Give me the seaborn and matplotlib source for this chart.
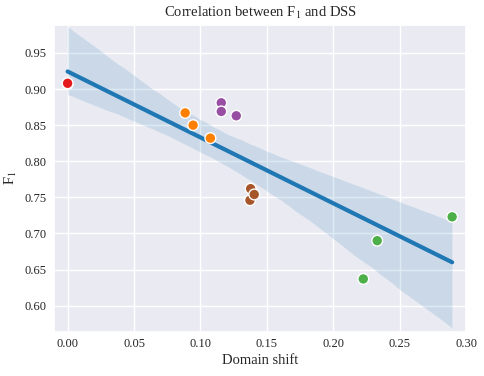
import pandas as pd
import seaborn as sns
import matplotlib
matplotlib.use("Agg")
from matplotlib import pyplot as plt

# domain shift (x) and F1 (y) per model group
groups = ["a", "a", "b", "b", "b", "c", "c", "c", "d", "d", "d", "e", "e", "e"]
domain_shift = [0.000, 0.000, 0.0885, 0.0945, 0.1075, 0.1157, 0.1157, 0.127,
                0.1378, 0.1373, 0.1405, 0.2226, 0.2331, 0.2895]
f1 = [0.907, 0.908, 0.867, 0.850, 0.832, 0.881, 0.869, 0.863,
      0.762, 0.746, 0.754, 0.637, 0.690, 0.723]
group_colors = {"a": "#e41a1c", "b": "#ff7f00", "c": "#984ea3",
                "d": "#a65628", "e": "#4daf4a"}

df = pd.DataFrame({"group": groups, "shift": domain_shift, "f1": f1})

sns.set_theme(style="darkgrid")
plt.rcParams["font.family"] = ["Liberation Serif", "DejaVu Serif"]
plt.rcParams["mathtext.fontset"] = "stix"

fig, ax = plt.subplots(figsize=(4.85, 3.76), dpi=100)
sns.regplot(data=df, x="shift", y="f1", scatter=False, color="#1f77b4",
            line_kws={"linewidth": 3}, seed=1, ax=ax)
sns.scatterplot(data=df, x="shift", y="f1", hue="group", palette=group_colors,
                s=60, edgecolor="white", linewidth=1, legend=False, ax=ax, zorder=3)

ax.set_title("Correlation between F$_1$ and DSS", fontsize=10.5)
ax.set_xlabel("Domain shift", fontsize=10.5, labelpad=3)
ax.set_ylabel("F$_1$", fontsize=10.5, labelpad=4)
ax.tick_params(axis="y", labelsize=9, length=0, pad=5.5)
ax.tick_params(axis="x", labelsize=9, length=0, pad=4.5)
ax.set_xlim(-0.01, 0.30)
ax.set_ylim(0.564, 0.989)

fig.subplots_adjust(left=0.112, right=0.961, top=0.934, bottom=0.118)
fig.savefig("out.png", dpi=100)
